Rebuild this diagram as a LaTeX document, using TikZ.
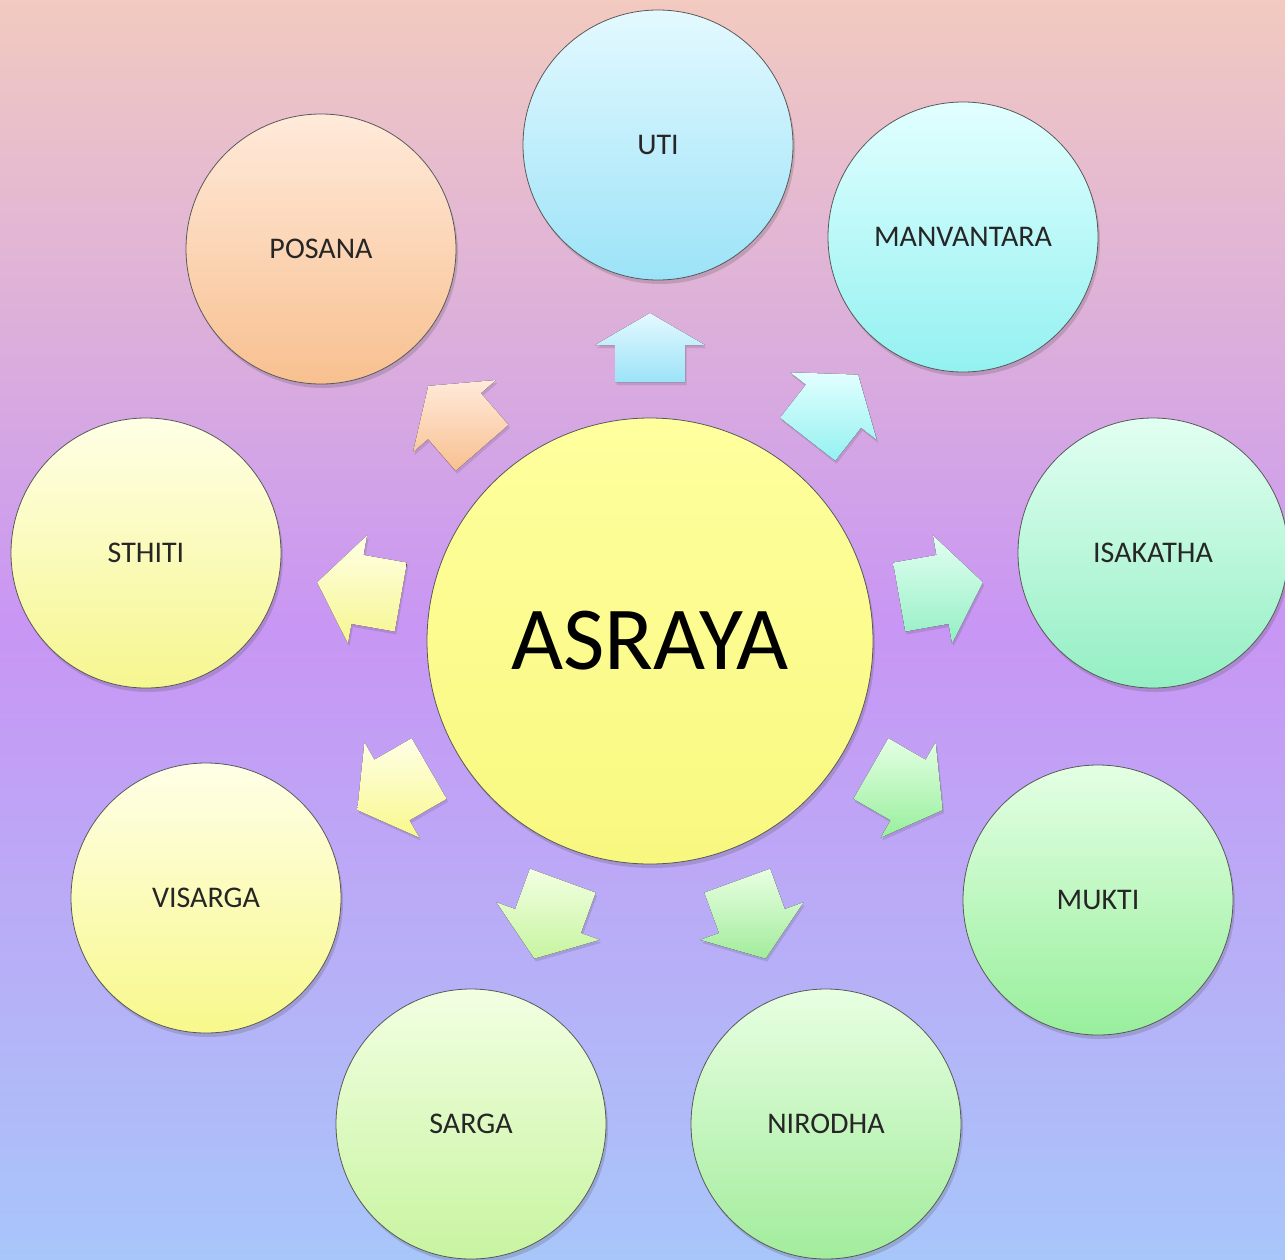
\documentclass[tikz,border=0pt]{standalone}
\usepackage{fontspec}
\setmainfont{Carlito}
\usetikzlibrary{calc,shadows}
\definecolor{bgtop}{HTML}{F2CAC0}
\definecolor{bgmid}{HTML}{C896F4}
\definecolor{bgbot}{HTML}{A8C6FA}
\definecolor{utiT}{HTML}{E4F9FF}\definecolor{utiB}{HTML}{9CE3F8}
\definecolor{manT}{HTML}{E2FFFF}\definecolor{manB}{HTML}{94F1F1}
\definecolor{isaT}{HTML}{E2FFF2}\definecolor{isaB}{HTML}{94EFC4}
\definecolor{mukT}{HTML}{E4FFE4}\definecolor{mukB}{HTML}{98EF9C}
\definecolor{nirT}{HTML}{E8FFE2}\definecolor{nirB}{HTML}{A2EC9C}
\definecolor{sarT}{HTML}{F2FFE2}\definecolor{sarB}{HTML}{C8F4A0}
\definecolor{visT}{HTML}{FFFFE8}\definecolor{visB}{HTML}{F8F88C}
\definecolor{sthT}{HTML}{FFFFE6}\definecolor{sthB}{HTML}{F6F690}
\definecolor{posT}{HTML}{FFEADA}\definecolor{posB}{HTML}{F8C090}
\definecolor{cenT}{HTML}{FFFF9E}\definecolor{cenB}{HTML}{F8F880}
\newcommand\blockarr[6]{%
  \fill[top color=#5, bottom color=#6, arrowshadow]
    ($(asraya.center)+(#1:#2)+(#1+90:35)$) --
    ($(asraya.center)+(#1:#3)+(#1+90:35)$) --
    ($(asraya.center)+(#1:#3)+(#1+90:55)$) --
    ($(asraya.center)+(#1:#4)$) --
    ($(asraya.center)+(#1:#3)+(#1-90:55)$) --
    ($(asraya.center)+(#1:#3)+(#1-90:35)$) --
    ($(asraya.center)+(#1:#2)+(#1-90:35)$) -- cycle;}
\begin{document}
\begin{tikzpicture}[x=1pt,y=1pt,
  bubble/.style={circle, draw=black!65, line width=0.8pt, minimum size=270pt,
    inner sep=0pt, font=\fontsize{30}{35}\selectfont, text=black!85,
    drop shadow={shadow xshift=2pt, shadow yshift=-4pt, opacity=0.22, fill=black!70}},
  arrowshadow/.style={drop shadow={shadow xshift=1.5pt, shadow yshift=-3pt, opacity=0.18, fill=black!70}}]
\useasboundingbox (0,0) rectangle (1285,-1259);
\fill[top color=bgtop, bottom color=bgbot, middle color=bgmid] (0,0) rectangle (1285,-1259);

\node[circle, draw=black!65, line width=0.8pt, minimum size=446pt, inner sep=0pt,
  top color=cenT, bottom color=cenB, font=\fontsize{90}{100}\selectfont, text=black,
  drop shadow={shadow xshift=2pt, shadow yshift=-4pt, opacity=0.22, fill=black!70}]
  (asraya) at (650,-641) {ASRAYA};

\node[bubble, top color=utiT, bottom color=utiB] (uti)  at (658,-145)  {UTI};
\node[bubble, top color=manT, bottom color=manB] (manv) at (963,-237)  {MANVANTARA};
\node[bubble, top color=isaT, bottom color=isaB] (isak) at (1153,-553) {ISAKATHA};
\node[bubble, top color=mukT, bottom color=mukB] (mukt) at (1098,-900) {MUKTI};
\node[bubble, top color=nirT, bottom color=nirB] (niro) at (826,-1124) {NIRODHA};
\node[bubble, top color=sarT, bottom color=sarB] (sarg) at (471,-1124) {SARGA};
\node[bubble, top color=visT, bottom color=visB] (visa) at (206,-898)  {VISARGA};
\node[bubble, top color=sthT, bottom color=sthB] (sthi) at (146,-553)  {STHITI};
\node[bubble, top color=posT, bottom color=posB] (posa) at (321,-249)  {POSANA};

\blockarr{90}{259}{296}{328}{utiT}{utiB}
\blockarr{52}{256}{298}{338}{manT}{manB}
\blockarr{10}{253}{297}{338}{isaT}{isaB}
\blockarr{-30}{255}{298}{338}{mukT}{mukB}
\blockarr{-70}{255}{298}{338}{nirT}{nirB}
\blockarr{-110}{255}{298}{338}{sarT}{sarB}
\blockarr{-150}{255}{298}{338}{visT}{visB}
\blockarr{170}{253}{297}{338}{sthT}{sthB}
\blockarr{131}{256}{298}{338}{posT}{posB}
\end{tikzpicture}
\end{document}
